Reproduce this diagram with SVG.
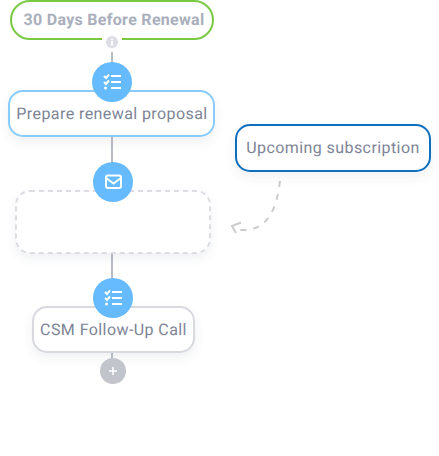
<svg xmlns="http://www.w3.org/2000/svg" width="439" height="456" viewBox="0 0 439 456">
<style>
text{font-family:Roboto,"Liberation Sans",sans-serif;font-size:16px;fill:#7d8497;letter-spacing:.42px;text-anchor:middle;text-rendering:geometricPrecision}
.box{fill:#fff;stroke-width:2}
.conn{stroke:#b9bcc6;stroke-width:2;fill:none}
.c{fill:#66bbff}
.ic{stroke:#fff;stroke-width:2;fill:none}
</style>
<defs><filter id="s" x="-15%" y="-30%" width="130%" height="170%"><feDropShadow dx="0" dy="5" stdDeviation="5" flood-color="#5a6478" flood-opacity=".09"/></filter></defs>
<g id="connectors">
<path class="conn" d="M112 52V64M112 136V165M112 253V282M112 352V360"/>
<path d="M280 181C277 205 270 232 240 230" fill="none" stroke="#cccccc" stroke-width="2" stroke-dasharray="6 7"/>
<path d="M241 222.500L232 226L236 233" fill="none" stroke="#cccccc" stroke-width="2"/>
</g>
<g id="trigger">
<rect class="box" x="11" y="1" width="202" height="38" rx="19" stroke="#7ac943"/>
<text x="114" y="25" style="font-weight:700;fill:#a9afbc;letter-spacing:.3px">30 Days Before Renewal</text>
<rect x="102" y="36" width="20" height="6" fill="#fff"/>
<circle cx="112" cy="42" r="6" fill="#dcdee3"/>
<rect x="111" y="41" width="2" height="4.500" fill="#fff"/><rect x="111" y="38.500" width="2" height="1.500" fill="#fff"/>
</g>
<g id="prepare">
<rect class="box" x="9" y="91" width="205" height="45" rx="14" stroke="#8accff" filter="url(#s)"/>
<text x="112" y="119">Prepare renewal proposal</text>
<circle class="c" cx="112" cy="82" r="20"/>
<path class="ic" d="M111 76H121M111 82H121M111 88H121M104 76L106 78L109 74.500M104 82L106 84L109 80.500"/><circle cx="105.500" cy="88" r="1.500" fill="#fff"/>
</g>
<g id="email">
<rect x="16" y="191" width="194" height="62" rx="14" fill="#fff" stroke="#dcdde2" stroke-width="2" stroke-dasharray="5 4" filter="url(#s)"/>
<circle class="c" cx="113" cy="182" r="20"/>
<rect class="ic" x="106" y="175.500" width="15" height="12.500" rx="2"/>
<path class="ic" d="M106 178L113.500 183.500L121 178"/>
</g>
<g id="call">
<rect class="box" x="33" y="307" width="161" height="45" rx="14" stroke="#d8d9df" filter="url(#s)"/>
<text x="113.500" y="335">CSM Follow-Up Call</text>
<circle class="c" cx="113" cy="298" r="20"/>
<path class="ic" d="M112 292H122M112 298H122M112 304H122M105 292L107 294L110 290.500M105 298L107 300L110 296.500"/><circle cx="106.500" cy="304" r="1.500" fill="#fff"/>
</g>
<g id="add">
<circle cx="113" cy="371" r="13" fill="#c2c4cb"/>
<path d="M109 371H117M113 367V375" stroke="#fff" stroke-width="1.500"/>
</g>
<g id="note">
<rect class="box" x="236" y="125" width="194" height="46" rx="14" stroke="#0f6fbf" filter="url(#s)"/>
<text x="333" y="153">Upcoming subscription</text>
</g>
</svg>
